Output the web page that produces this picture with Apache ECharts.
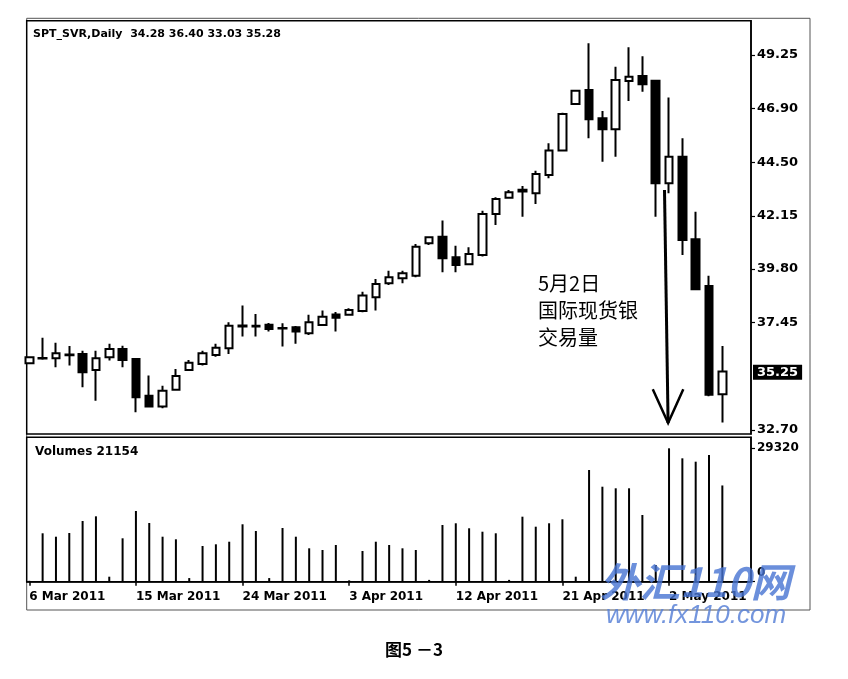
<!DOCTYPE html>
<html>
<head>
<meta charset="utf-8">
<title>SPT_SVR Daily</title>
<script src="https://cdn.jsdelivr.net/npm/echarts@6/dist/echarts.min.js"></script>
<style>
  html, body { margin: 0; padding: 0; background: #fff; }
  #main { width: 848px; height: 679px; }
</style>
</head>
<body>
<div id="main"></div>
<script>
// bars, 6 Mar .. 6 May 2011 (sundays included, saturdays absent)
const dates = [
  '6 Mar 2011', '7 Mar 2011', '8 Mar 2011', '9 Mar 2011', '10 Mar 2011', '11 Mar 2011',
  '13 Mar 2011', '14 Mar 2011', '15 Mar 2011', '16 Mar 2011', '17 Mar 2011', '18 Mar 2011',
  '20 Mar 2011', '21 Mar 2011', '22 Mar 2011', '23 Mar 2011', '24 Mar 2011', '25 Mar 2011',
  '27 Mar 2011', '28 Mar 2011', '29 Mar 2011', '30 Mar 2011', '31 Mar 2011', '1 Apr 2011',
  '3 Apr 2011', '4 Apr 2011', '5 Apr 2011', '6 Apr 2011', '7 Apr 2011', '8 Apr 2011',
  '10 Apr 2011', '11 Apr 2011', '12 Apr 2011', '13 Apr 2011', '14 Apr 2011', '15 Apr 2011',
  '17 Apr 2011', '18 Apr 2011', '19 Apr 2011', '20 Apr 2011', '21 Apr 2011',
  '24 Apr 2011', '25 Apr 2011', '26 Apr 2011', '27 Apr 2011', '28 Apr 2011', '29 Apr 2011',
  '1 May 2011', '2 May 2011', '3 May 2011', '4 May 2011', '5 May 2011', '6 May 2011'
];

const opens = [
  35.64, 35.85, 35.86, 36.03, 36.05, 35.35, 35.91, 36.27, 35.83, 34.21, 33.73, 34.47,
  35.35, 35.61, 36.01, 36.30, 37.26, 37.30, 37.34, 37.20, 37.23, 36.97, 37.33, 37.80,
  37.78, 37.95, 38.56, 39.17, 39.39, 39.51, 40.94, 41.23, 40.32, 40.01, 40.42, 42.23,
  42.95, 43.22, 43.15, 43.95, 45.03, 47.09, 47.70, 46.46, 45.97, 48.10, 48.32,
  48.11, 43.59, 44.76, 41.12, 39.05, 34.28
];
const highs = [
  35.95, 36.77, 36.55, 36.41, 36.20, 36.20, 36.50, 36.42, 35.86, 35.10, 34.65, 35.39,
  35.79, 36.20, 36.50, 37.45, 38.19, 37.82, 37.42, 37.41, 37.29, 37.78, 37.97, 37.90,
  38.07, 38.80, 39.36, 39.73, 39.73, 40.91, 41.24, 41.94, 40.83, 40.76, 42.38, 42.97,
  43.29, 43.47, 44.14, 45.35, 46.70, 47.70, 49.77, 46.78, 48.73, 49.59, 49.20,
  48.15, 47.37, 45.57, 42.33, 39.51, 36.40
];
const lows = [
  35.60, 35.80, 35.47, 35.54, 34.58, 33.99, 35.76, 35.47, 33.48, 33.70, 33.66, 34.45,
  35.33, 35.54, 35.93, 36.05, 36.82, 36.82, 37.05, 36.38, 36.50, 36.89, 37.30, 37.04,
  37.76, 37.89, 37.97, 39.10, 39.17, 39.44, 40.86, 39.66, 39.66, 39.99, 40.35, 41.75,
  42.93, 42.11, 42.67, 43.81, 45.00, 47.06, 45.57, 44.54, 44.76, 47.22, 47.63,
  42.11, 43.15, 40.42, 38.88, 34.19, 33.03
];
const closes = [
  35.91, 35.88, 36.08, 36.00, 35.25, 35.86, 36.27, 35.79, 34.14, 33.73, 34.43, 35.08,
  35.67, 36.08, 36.33, 37.30, 37.31, 37.27, 37.15, 37.18, 37.04, 37.45, 37.70, 37.65,
  37.99, 38.63, 39.14, 39.44, 39.62, 40.79, 41.20, 40.28, 39.98, 40.47, 42.23, 42.89,
  43.19, 43.30, 44.00, 45.03, 46.65, 47.67, 46.41, 45.97, 48.15, 48.29, 47.96,
  43.59, 44.76, 41.08, 38.91, 34.25, 35.28
];
const volumes = [
  200, 10640, 9890, 10700, 13340, 14370, 1100, 9540, 15540, 12900, 9890, 9320,
  800, 7850, 8220, 8790, 12620, 11140, 800, 11800, 9890, 7340, 6970, 8070,
  300, 6750, 8790, 8070, 7340, 6970, 400, 12460, 12840, 11740, 10990, 10640,
  400, 14290, 12090, 12840, 13720, 1100, 24550, 20880, 20530, 20530, 14660,
  3670, 29320, 27120, 26380, 27850, 21154
];

// axis labels
const dateTicks = [0, 8, 16, 24, 32, 40, 48];
const priceTicks = [32.70, 37.45, 39.80, 42.15, 44.50, 46.90, 49.25];
const lastPrice = 35.25;
const volumeTicks = [0, 29320];

// arrow annotation (bar index, price)
const arrowShaft = [[47.66, 43.29], [47.93, 33.01]];
const arrowHead = [[46.78, 34.50], [47.93, 33.01], [49.07, 34.50]];

const candles = dates.map((d, i) => [i, opens[i], closes[i], lows[i], highs[i]]);
const volumeBars = dates.map((d, i) => [i, volumes[i]]);

const axisFont = { fontFamily: 'DejaVu Sans', fontWeight: 'bold', color: '#000' };
const xMin = -0.195;
const xMax = 54.15;

const chart = echarts.init(document.getElementById('main'));
chart.setOption({
  animation: false,
  backgroundColor: '#fff',
  grid: [
    { left: 26.7, top: 20.7, width: 724.3, height: 413.3, show: true, borderColor: '#000', borderWidth: 1.5, backgroundColor: '#fff' },
    { left: 26.7, top: 437.3, width: 724.3, height: 144.4, show: true, borderColor: '#000', borderWidth: 1.5, backgroundColor: '#fff' }
  ],
  xAxis: [
    {
      type: 'value', gridIndex: 0, min: xMin, max: xMax,
      axisLine: { show: false, onZero: false }, axisTick: { show: false }, axisLabel: { show: false }, splitLine: { show: false }
    },
    {
      type: 'value', gridIndex: 1, min: xMin, max: xMax,
      axisLine: { show: true, onZero: false, lineStyle: { color: '#000', width: 1.5 } },
      axisTick: { show: true, customValues: dateTicks, length: 4, lineStyle: { color: '#000', width: 1.5 } },
      axisLabel: {
        customValues: dateTicks, ...axisFont, fontSize: 12, margin: 9, align: 'left',
        formatter: v => dates[Math.round(v)]
      },
      splitLine: { show: false }
    }
  ],
  yAxis: [
    {
      type: 'value', gridIndex: 0, position: 'right', min: 32.52, max: 50.764,
      axisLine: { show: true, onZero: false, lineStyle: { color: '#000', width: 1.5 } },
      axisTick: { show: true, customValues: priceTicks, length: 4, lineStyle: { color: '#000', width: 1.2 } },
      axisLabel: {
        customValues: priceTicks.concat([lastPrice]), ...axisFont, fontSize: 13, margin: 2,
        formatter: v => Math.abs(v - lastPrice) < 1e-6 ? '{box|' + v.toFixed(2) + '}' : '{n|' + v.toFixed(2) + '}',
        rich: {
          n: { ...axisFont, fontSize: 13, padding: [0, 0, 0, 4] },
          box: { ...axisFont, fontSize: 13, color: '#fff', backgroundColor: '#000', padding: [1, 4, 1, 4], lineHeight: 15 }
        }
      },
      splitLine: { show: false }
    },
    {
      type: 'value', gridIndex: 1, position: 'right', min: 0, max: 31740,
      axisLine: { show: true, onZero: false, lineStyle: { color: '#000', width: 1.5 } },
      axisTick: { show: true, customValues: volumeTicks, length: 4, lineStyle: { color: '#000', width: 1.2 } },
      axisLabel: {
        customValues: volumeTicks, ...axisFont, fontSize: 12, margin: 2,
        formatter: v => v === 0 ? '{z|0}' : '{n|' + v + '}',
        rich: {
          n: { ...axisFont, fontSize: 12, padding: [0, 0, 0, 4] },
          z: { ...axisFont, fontSize: 12, padding: [0, 0, 18, 4] }
        }
      },
      splitLine: { show: false }
    }
  ],
  series: [
    {
      type: 'candlestick', xAxisIndex: 0, yAxisIndex: 0,
      data: candles, encode: { x: 0, y: [1, 2, 3, 4] },
      barWidth: 8,
      itemStyle: { color: '#fff', color0: '#000', borderColor: '#000', borderColor0: '#000', borderWidth: 2 }
    },
    {
      type: 'bar', xAxisIndex: 1, yAxisIndex: 1,
      data: volumeBars, barWidth: 2,
      itemStyle: { color: '#000' }
    },
    {
      type: 'line', xAxisIndex: 0, yAxisIndex: 0, data: arrowShaft,
      symbol: 'none', z: 5, lineStyle: { color: '#000', width: 3 }
    },
    {
      type: 'line', xAxisIndex: 0, yAxisIndex: 0, data: arrowHead,
      symbol: 'none', z: 5, lineStyle: { color: '#000', width: 2.5, join: 'miter' }
    }
  ],
  graphic: [
    {
      type: 'rect', z: -1, silent: true,
      shape: { x: 26.7, y: 18.3, width: 783.3, height: 591.7 },
      style: { fill: 'none', stroke: '#555', lineWidth: 1 }
    },
    {
      type: 'text', left: 33, top: 29,
      style: { text: 'SPT_SVR,Daily  34.28 36.40 33.03 35.28', font: 'bold 11px "DejaVu Sans"', fill: '#000' }
    },
    {
      type: 'text', left: 35, top: 446,
      style: { text: 'Volumes 21154', font: 'bold 12px "DejaVu Sans"', fill: '#000' }
    },
    {
      type: 'text', left: 538, top: 270,
      style: {
        text: '5月2日\n国际现货银\n交易量', font: '20px "Noto Sans CJK SC"', fill: '#000', lineHeight: 27
      }
    },
    {
      type: 'text', left: 600, top: 562, z: 10,
      style: { text: '外汇110网', font: 'italic bold 40px "Noto Sans CJK SC"', fill: 'rgba(70,115,210,0.8)' }
    },
    {
      type: 'text', left: 606, top: 603, z: 10,
      style: { text: 'www.fx110.com', font: 'italic 26px "Liberation Sans"', fill: 'rgba(90,130,215,0.85)' }
    },
    {
      type: 'text', left: 385, top: 641,
      style: { text: '图5 －3', font: 'bold 17px "Noto Sans CJK SC"', fill: '#000' }
    }
  ]
});
</script>
</body>
</html>
